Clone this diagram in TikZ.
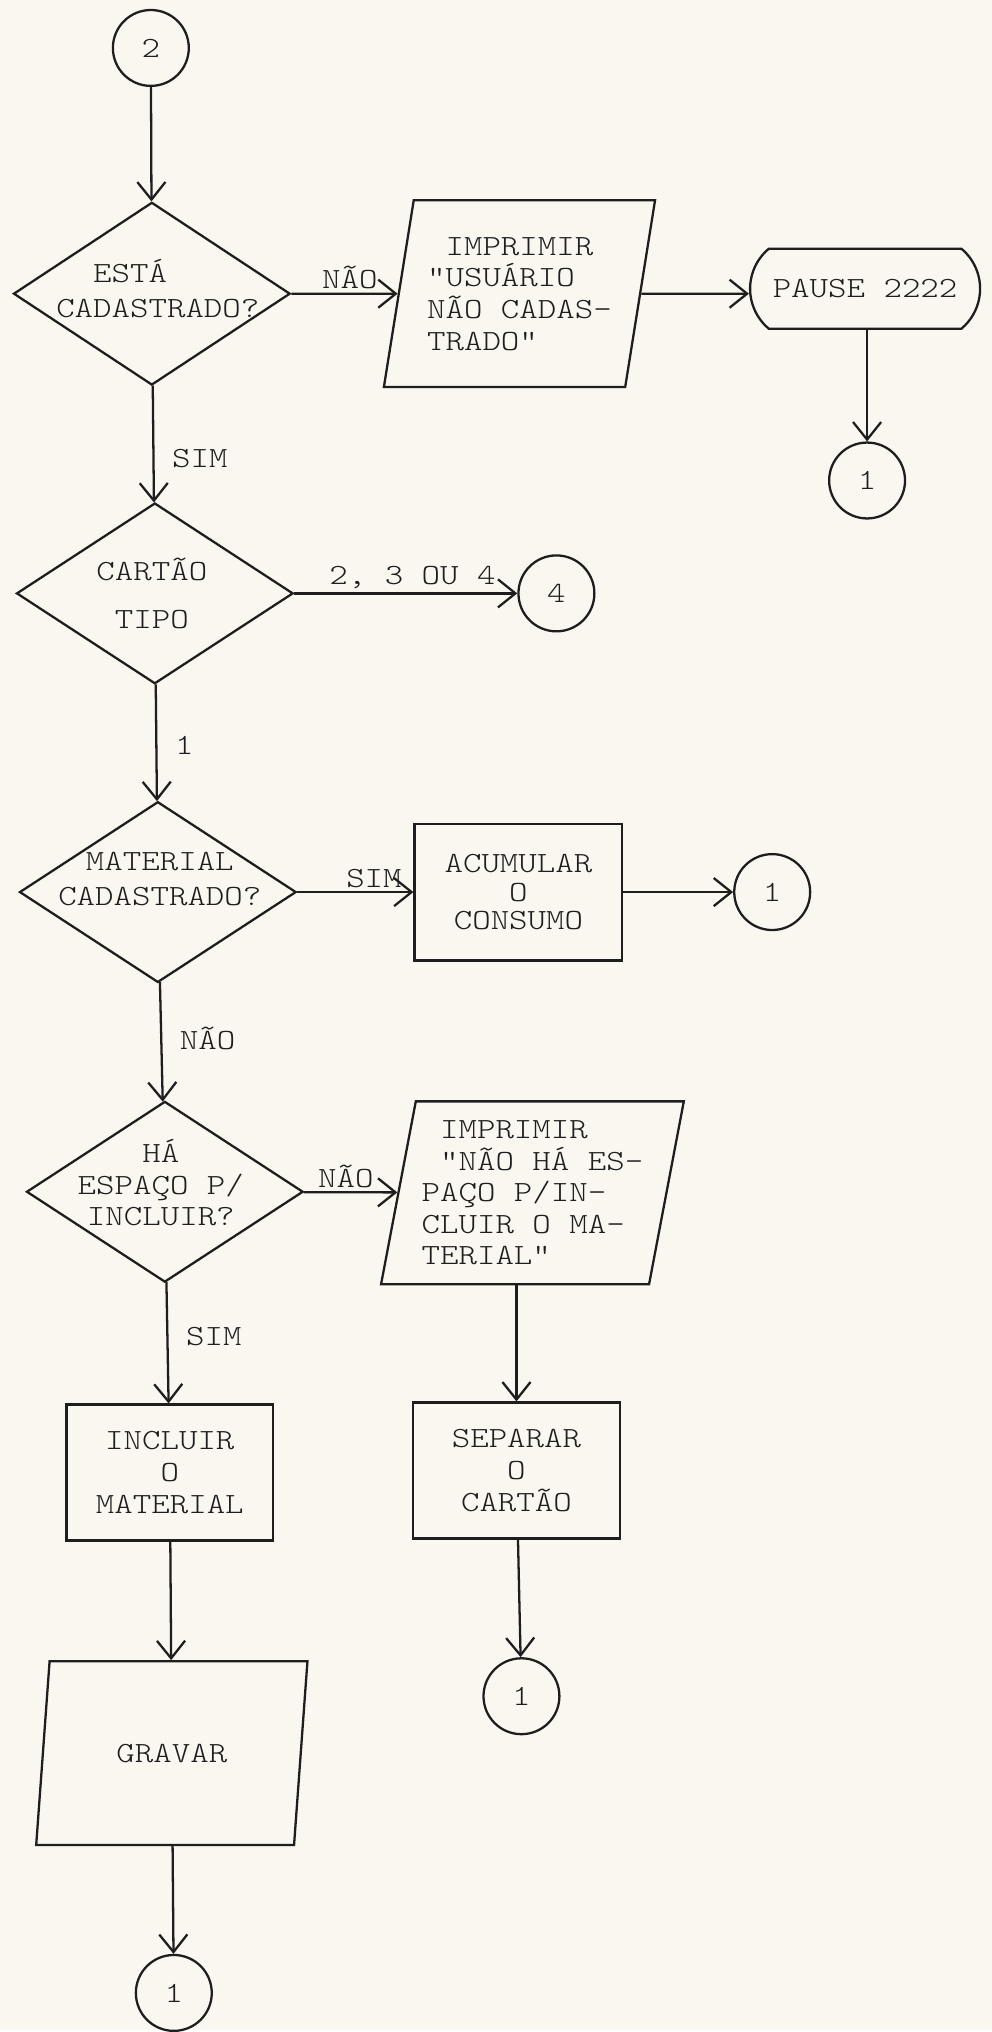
\documentclass[tikz,border=0pt]{standalone}
\usepackage{fontspec}
\setmonofont{lmmonolt10-regular.otf}[FakeStretch=1.2]
\usetikzlibrary{shapes.geometric,shapes.misc,arrows.meta}
\definecolor{papel}{HTML}{F9F7F0}
\definecolor{tinta}{HTML}{1E1E1E}

\begin{document}
\begin{tikzpicture}[x=0.02cm, y=-0.02cm, line width=1.3pt, color=tinta,
    every node/.style={font=\ttfamily\fontsize{16.7}{18}\selectfont},
    seta/.style={-{Straight Barb[length=10pt,width=16pt]}},
    decisao/.style={diamond, draw, minimum width=5.54cm, minimum height=3.6cm, inner sep=0pt},
    texto/.style={align=center, inner sep=0pt},
    processo/.style={rectangle, draw, minimum width=4.14cm, minimum height=2.72cm, align=center},
    saida/.style={trapezium, trapezium left angle=77.5, trapezium right angle=102.5,
      trapezium stretches=true, draw, minimum width=5.44cm, minimum height=3.7cm, align=left},
    conector/.style={circle, draw, minimum size=1.52cm, inner sep=0pt},
    terminal/.style={rounded rectangle, rounded rectangle arc length=100, draw,
      minimum width=4.84cm, minimum height=1.6cm},
    rotulo/.style={inner sep=2pt}]

% fundo (papel)
\fill[papel] (0,0) rectangle (993,2032);

% entrada
\node[conector] (c2) at (151,48) {2};

% esta cadastrado?
\node[decisao, minimum height=3.66cm] (d1) at (152,294) {};
\node[texto, align=left] (d1t) at (158,289) {\phantom{CA}ESTÁ\\[2pt]CADASTRADO?};
\node[saida, minimum height=3.74cm] (p1) at (520,294) {\phantom{"}IMPRIMIR\\"USUÁRIO\\NÃO CADAS-\\TRADO"};
\node[terminal] (t1) at (866,289) {PAUSE 2222};
\node[conector] (c1a) at (868,481) {1};

% tipo do cartao
\node[decisao, minimum height=3.62cm] (d2) at (155,594) {};
\node[texto] (d2t) at (152,594) {CARTÃO\\[9pt]TIPO};
\node[conector] (c4) at (557,594) {4};

% material cadastrado?
\node[decisao, minimum height=3.62cm] (d3) at (158,893) {};
\node[texto] (d3t) at (160,880) {MATERIAL\\[2pt]CADASTRADO?};
\node[processo, minimum width=4.16cm, minimum height=2.74cm] (r1) at (519,893) {ACUMULAR\\[-2pt]O\\[-2pt]CONSUMO};
\node[conector] (c1b) at (773,893) {1};

% ha espaco?
\node[decisao, minimum height=3.62cm] (d4) at (165,1193) {};
\node[texto] (d4t) at (161,1184) {HÁ\\ESPAÇO P/\\INCLUIR?};
\node[saida, minimum height=3.66cm] (p2) at (533,1194) {\phantom{"}IMPRIMIR\\\phantom{"}"NÃO HÁ ES-\\PAÇO P/IN-\\CLUIR O MA-\\TERIAL"};

% inclusao / separacao
\node[processo] (r2) at (170,1474) {INCLUIR\\O\\MATERIAL};
\node[processo] (r3) at (517,1472) {SEPARAR\\O\\CARTÃO};
\node[conector] (c1c) at (522,1698) {1};
\node[saida, minimum height=3.68cm] (p3) at (172,1755) {GRAVAR};
\node[conector] (c1d) at (174,1995) {1};

% ligacoes
\draw[seta] (c2) -- (d1);
\draw[seta] (d1) -- node[rotulo, above, pos=0.55] {NÃO} (p1);
\draw[seta] (p1) -- (p1 -| t1.west);
\draw[seta] (t1.south -| c1a) -- (c1a);
\draw[seta] (d1) -- node[rotulo, right=8pt, pos=0.62] {SIM} (d2);
\draw[seta] (d2) -- node[rotulo, above, pos=0.53] {2, 3 OU 4} (c4);
\draw[seta] (d2) -- node[rotulo, right=8pt, pos=0.52] {1} (d3);
\draw[seta] (d3) -- node[rotulo, above, pos=0.66] {SIM} (r1);
\draw[seta] (r1) -- (c1b);
\draw[seta] (d3) -- node[rotulo, right=8pt, pos=0.47] {NÃO} (d4);
\draw[seta] (d4) -- node[rotulo, above, pos=0.45] {NÃO} (p2);
\draw[seta] (d4) -- node[rotulo, right=8pt, pos=0.45] {SIM} (r2);
\draw[seta] (p2.south -| r3) -- (r3);
\draw[seta] (r3) -- (c1c);
\draw[seta] (r2) -- (p3);
\draw[seta] (p3) -- (c1d);
\end{tikzpicture}
\end{document}
